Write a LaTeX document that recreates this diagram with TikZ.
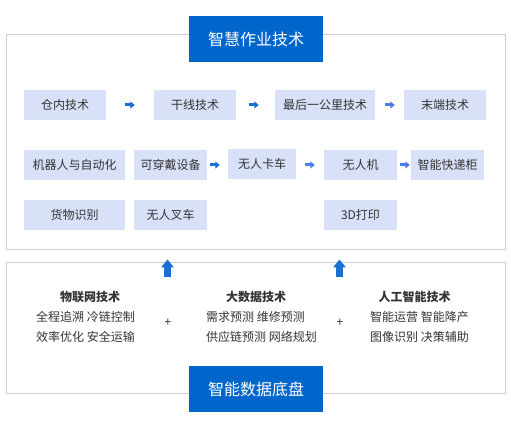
\documentclass[tikz,border=0pt]{standalone}
\usepackage{fontspec}
\newfontfamily\cjk{Noto Sans CJK SC}
\usepackage{tikz}
\usetikzlibrary{arrows.meta, positioning, calc}
\usepackage{xcolor}
\definecolor{titleblue}{HTML}{0066CC}
\definecolor{boxblue}{HTML}{D9E1F8}
\definecolor{arrowblue}{HTML}{1A6FD4}
\definecolor{arrowlight}{HTML}{4C7DF0}
\definecolor{framegray}{HTML}{CCCCCC}
\definecolor{textgray}{HTML}{333333}

\begin{document}
\begin{tikzpicture}[x=1pt, y=-1pt,
  techbox/.style={fill=boxblue, text=textgray, minimum height=30pt, inner sep=0pt,
    font=\cjk\fontsize{12}{14}\selectfont},
  titlebox/.style={fill=titleblue, text=white, minimum width=134pt, minimum height=46pt,
    inner sep=0pt, font=\cjk\fontsize{16}{18}\selectfont},
  framebox/.style={draw=framegray, line width=1pt, minimum width=499pt, inner sep=0pt},
  headtext/.style={text=textgray, inner sep=0pt, font=\cjk\bfseries\fontsize{12}{14}\selectfont},
  bodytext/.style={text=textgray, inner sep=0pt, anchor=west, font=\cjk\fontsize{12}{14}\selectfont},
  plustext/.style={text=textgray, inner sep=0pt, font=\cjk\fontsize{12}{14}\selectfont},
  flow/.style={line width=3pt, arrowblue, -{Triangle[length=4.5pt,width=7pt]}},
  flowlight/.style={flow, arrowlight},
  feed/.style={line width=7pt, arrowblue, -{Triangle[length=8pt,width=12.5pt]}}]
  \useasboundingbox (0,0) rectangle (511,430);

  % frames
  \node[framebox, minimum height=215pt] (upper) at (256,142.5) {};
  \node[framebox, minimum height=130pt] (lower) at (256,328) {};
  \node[titlebox] (uptitle) at (256,39) {智慧作业技术};
  \node[titlebox] (lowtitle) at (256,389) {智能数据底盘};

  % first row
  \node[techbox, minimum width=82pt] (warehouse) at (65,105) {仓内技术};
  \node[techbox, minimum width=82pt] (trunk) at (195,105) {干线技术};
  \node[techbox, minimum width=100pt] (lastmile) at (325,105) {最后一公里技术};
  \node[techbox, minimum width=82pt] (terminal) at (445,105) {末端技术};

  % second row
  \node[techbox, minimum width=101pt] (robot) at (74.5,165) {机器人与自动化};
  \node[techbox, minimum width=73pt] (wearable) at (170.5,165) {可穿戴设备};
  \node[techbox, minimum width=68pt] (truck) at (262,164) {无人卡车};
  \node[techbox, minimum width=73pt] (drone) at (360.5,165) {无人机};
  \node[techbox, minimum width=73pt] (locker) at (447.5,165) {智能快递柜};

  % third row
  \node[techbox, minimum width=101pt] (vision) at (74.5,215) {货物识别};
  \node[techbox, minimum width=73pt] (forklift) at (170.5,215) {无人叉车};
  \node[techbox, minimum width=73pt] (printing) at (360.5,215) {3D打印};

  \draw[flow, shorten <=19pt, shorten >=19pt] (warehouse) -- (trunk);
  \draw[flow, shorten <=13pt, shorten >=16pt] (trunk) -- (lastmile);
  \draw[flowlight, shorten <=10pt, shorten >=9pt] (lastmile) -- (terminal);
  \draw[flow, shorten <=3pt, shorten >=8pt] (wearable.east) -- (wearable.east -| truck.west);
  \draw[flowlight, shorten <=9pt, shorten >=9pt] (truck.east |- drone.west) -- (drone.west);
  \draw[flowlight, shorten <=3pt, shorten >=1pt] (drone) -- (locker);

  % data platform
  \node[headtext] (iot) at (90,297) {物联网技术};
  \node[bodytext] (iot1) at (36,317) {全程追溯 冷链控制};
  \node[bodytext] (iot2) at (36,337) {效率优化 安全运输};
  \node[plustext] (plus1) at (168,323) {+};
  \node[headtext] (bigdata) at (256,297) {大数据技术};
  \node[bodytext] (bigdata1) at (206,317) {需求预测 维修预测};
  \node[bodytext] (bigdata2) at (206,337) {供应链预测 网络规划};
  \node[plustext] (plus2) at (340,323) {+};
  \node[headtext] (ai) at (414.5,297) {人工智能技术};
  \node[bodytext] (ai1) at (370,317) {智能运营 智能降产};
  \node[bodytext] (ai2) at (370,337) {图像识别 决策辅助};

  \coordinate (feed1) at (167.5,277);
  \coordinate (feed2) at (339.5,277);
  \draw[feed, shorten >=9pt] (feed1) -- (feed1 |- upper.south);
  \draw[feed, shorten >=9pt] (feed2) -- (feed2 |- upper.south);
\end{tikzpicture}
\end{document}
